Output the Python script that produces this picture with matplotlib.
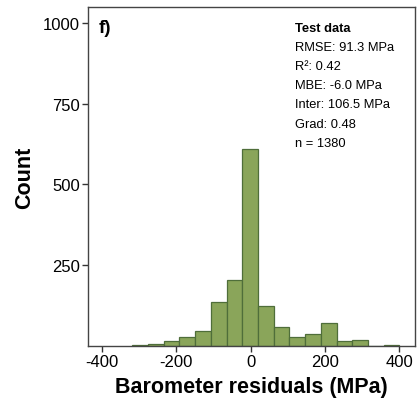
"""Histogram of barometer residuals on the test data (panel f)."""

import matplotlib

matplotlib.use("Agg")
import matplotlib.pyplot as plt
import numpy as np

plt.rcParams["font.family"] = ["Liberation Sans", "DejaVu Sans"]
plt.rcParams["axes.unicode_minus"] = False

# bin edges (MPa)
bin_start = -318.0
bin_stop = 400.0
counts = [3, 5, 16, 27, 47, 135, 205, 609, 125, 58, 29, 36, 70, 14, 20, 1, 3]

x_ticks = [-400, -200, 0, 200, 400]
y_ticks = [250, 500, 750, 1000]

stats_title = "Test data"
stats_lines = [
    "RMSE: 91.3 MPa",
    "R²: 0.42",
    "MBE: -6.0 MPa",
    "Inter: 106.5 MPa",
    "Grad: 0.48",
    "n = 1380",
]

edges = np.linspace(bin_start, bin_stop, len(counts) + 1)

fig = plt.figure(figsize=(4.17, 4.06), dpi=100)
ax = fig.add_axes([0.2122, 0.1453, 0.7830, 0.8350])

ax.bar(edges[:-1], counts, width=np.diff(edges), align="edge",
       color="#8aa55a", edgecolor="#4f6e3a", linewidth=0.9)

ax.set_xlim(-436, 442)
ax.set_ylim(0, 1049)
ax.set_xticks(x_ticks)
ax.set_yticks(y_ticks)
ax.tick_params(axis="both", labelsize=12, length=4, width=1.0,
               color="#333333", labelcolor="black", pad=2)
for spine in ax.spines.values():
    spine.set_color("#444444")
    spine.set_linewidth(1.0)

ax.set_xlabel("Barometer residuals (MPa)", fontsize=15.5, fontweight="bold", labelpad=5)
ax.set_ylabel("Count", fontsize=15.5, fontweight="bold", labelpad=6)

ax.text(0.03, 0.965, "f)", transform=ax.transAxes, fontsize=13.5,
        fontweight="bold", va="top", ha="left")

ax.text(0.632, 0.957, stats_title, transform=ax.transAxes, fontsize=9.3,
        fontweight="bold", va="top", ha="left")
for i, line in enumerate(stats_lines):
    ax.text(0.632, 0.957 - (i + 1) * 0.0566, line, transform=ax.transAxes,
            fontsize=9.3, va="top", ha="left")

fig.savefig("out.png", dpi=100)
